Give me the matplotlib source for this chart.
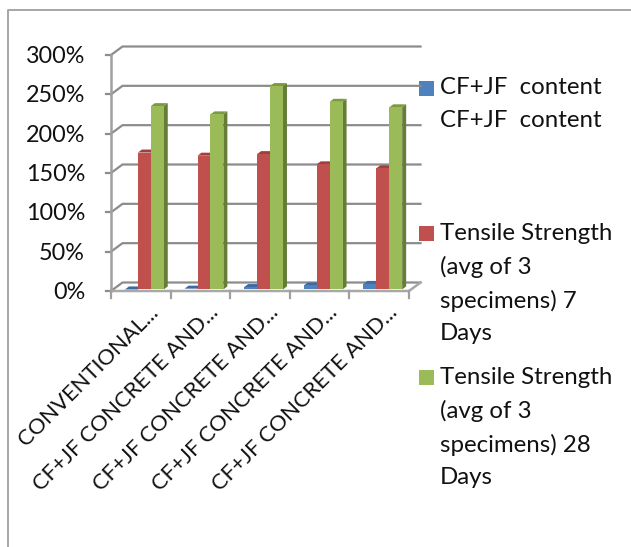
import matplotlib
matplotlib.use("Agg")
import matplotlib.pyplot as plt
from matplotlib.patches import Polygon, Rectangle

W, H = 631, 547
categories = ["CONVENTIONAL...", "CF+JF CONCRETE AND...", "CF+JF CONCRETE AND...",
              "CF+JF CONCRETE AND...", "CF+JF CONCRETE AND..."]
cf_jf = [0, 1, 3, 5, 7]
tensile_7 = [174, 170, 172, 159, 154]
tensile_28 = [233, 222.5, 258.5, 238.5, 231.5]
series_names = ["CF+JF  content\nCF+JF  content",
                "Tensile Strength\n(avg of 3\nspecimens) 7\nDays",
                "Tensile Strength\n(avg of 3\nspecimens) 28\nDays"]
y_ticks = [0, 50, 100, 150, 200, 250, 300]

plt.rcParams['font.family'] = ['Lato', 'DejaVu Sans']
fig = plt.figure(figsize=(W / 100, H / 100), dpi=100, facecolor="white")

bg = fig.add_axes([0, 0, 1, 1])
bg.set_xlim(0, W); bg.set_ylim(H, 0); bg.axis("off")
bg.plot([7.5, 7.5, W], [H, 9.5, 9.5], color="#a6a6a6", lw=1.4, solid_capstyle="butt")

L, R, B, T = 111, 409, 291, 55
ax = fig.add_axes([L / W, 1 - B / H, (R - L) / W, (B - T) / H])
ax.set_xlim(0, 5); ax.set_ylim(0, 300)
ax.axis("off")
px = 5 / (R - L); py = 300 / (B - T)
DX, DY = 11.5 * px, 8.5 * py
GRID = "#8c8c8c"
for t in y_ticks:
    ax.plot([0, DX, 5 + DX], [t, t + DY, t + DY], color=GRID, lw=1.6, clip_on=False, zorder=1)
    ax.plot([-5 * px, 0], [t, t], color=GRID, lw=1.6, clip_on=False, zorder=1)
    bg.text(85, B - t / py + 1.5, f"{t}%", ha="right", va="center", fontsize=16.8, color="#111111")
ax.plot([0, 0], [0, 300], color="#a0a0a0", lw=1.8, clip_on=False, zorder=1)
ax.plot([0, 5, 5 + DX], [0, 0, DY], color="#a8a8a8", lw=1.8, clip_on=False, zorder=1)
for i in range(6):
    ax.plot([i, i], [0, -7 * py], color="#a0a0a0", lw=1.6, clip_on=False, zorder=1)

base = 2
bw = 0.2167
series = [(cf_jf, 0.343, "#4f81bd", "#3f6797", "#3a6ba5"),
          (tensile_7, 0.56, "#c0504d", "#9a403e", "#a23e3b"),
          (tensile_28, 0.777, "#9bbb59", "#667d38", "#7c9a40")]
dx, dy = 4 * px, 3 * py
for vals, off, front, side, top in series:
    xs = [i + off for i in range(len(vals))]
    ax.bar(xs, vals, width=bw, bottom=base, color=front, zorder=3, clip_on=False)
    for x, v in zip(xs, vals):
        l, r, t = x - bw / 2, x + bw / 2, base + v
        ax.add_patch(Polygon([(r, base), (r + dx, base + dy), (r + dx, t + dy), (r, t)],
                             color=side, lw=0, zorder=2, clip_on=False))
        ax.add_patch(Polygon([(l, t), (l + dx, t + dy), (r + dx, t + dy), (r, t)],
                             color=top, lw=0, zorder=2, clip_on=False))

for i, c in enumerate(categories):
    ax.annotate(c, xy=(i + 0.63, 0), xytext=(0, -11), textcoords="offset pixels",
                rotation=45, rotation_mode="anchor", ha="right", va="top",
                fontsize=15.8, color="#111111", annotation_clip=False)

leg_y = [88.5, 233.5, 377.5]
for name, y, (_, _, col, _, _) in zip(series_names, leg_y, series):
    bg.add_patch(Rectangle((419, y - 7.5), 15, 15, color=col, lw=0))
    bg.text(440, y - 11, name, ha="left", va="top", fontsize=17.3, color="#111111", linespacing=1.66)

fig.savefig("out.png", dpi=100)
